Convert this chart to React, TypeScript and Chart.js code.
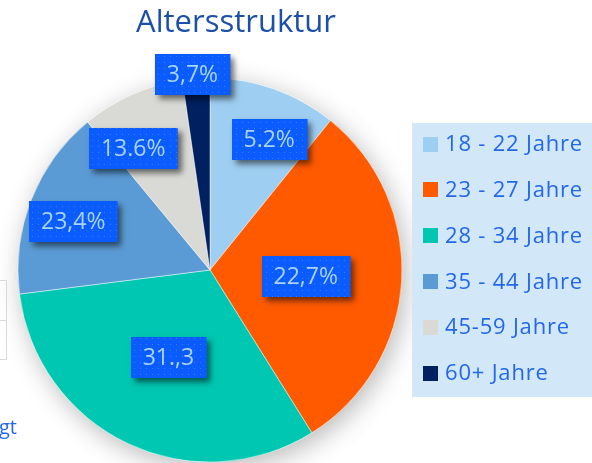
import React, { useEffect, useRef } from "react";
import { Chart, registerables } from "chart.js";

Chart.register(...registerables);

// ---- data ----
const chartTitle = "Altersstruktur";
const categories = ["18 - 22 Jahre", "23 - 27 Jahre", "28 - 34 Jahre", "35 - 44 Jahre", "45-59 Jahre", "60+ Jahre"];
const shares = [10.8, 30.3, 31.9, 16.0, 8.7, 2.3];
const labelTexts = ["5.2%", "22,7%", "31.,3", "23,4%", "13.6%", "3,7%"];
const sideText = "gt";

// ---- styles ----
const sliceColors = ["#9ecef1", "#ff5a00", "#00c7b1", "#5b9bd5", "#d9d9d6", "#002060"];
const labelRadiusFrac = [0.745, 0.5, 0.505, 0.755, 0.75, 1.02];
const labelAngleShiftDeg = [5, 0.5, 0, -2.2, -8.3, -1];
const FONT = "'Open Sans', 'Noto Sans', sans-serif";

function makePattern(ctx: CanvasRenderingContext2D) {
  const c = document.createElement("canvas");
  c.width = 6;
  c.height = 6;
  const g = c.getContext("2d")!;
  g.fillStyle = "#0a5cff";
  g.fillRect(0, 0, 6, 6);
  g.fillStyle = "#3a7cff";
  g.fillRect(2, 2, 1, 1);
  return ctx.createPattern(c, "repeat");
}

const decorPlugin = {
  id: "decor",
  beforeDatasetsDraw(chart: any) {
    const ctx: CanvasRenderingContext2D = chart.ctx;
    const meta = chart.getDatasetMeta(0);
    const arc = meta.data[0];
    if (!arc) return;
    const { x, y, outerRadius } = arc.getProps(["x", "y", "outerRadius"], true);
    ctx.save();
    ctx.shadowColor = "rgba(0,0,0,0.28)";
    ctx.shadowBlur = 26;
    ctx.shadowOffsetX = 4;
    ctx.shadowOffsetY = 6;
    ctx.beginPath();
    ctx.arc(x, y, outerRadius, 0, Math.PI * 2);
    ctx.fillStyle = "#ffffff";
    ctx.fill();
    ctx.restore();
  },
  afterDatasetsDraw(chart: any) {
    const ctx: CanvasRenderingContext2D = chart.ctx;
    const meta = chart.getDatasetMeta(0);
    const pattern = makePattern(ctx);
    ctx.save();
    ctx.font = `23px ${FONT}`;
    meta.data.forEach((el: any, i: number) => {
      const { x, y, startAngle, endAngle, outerRadius } = el.getProps(
        ["x", "y", "startAngle", "endAngle", "outerRadius"],
        true
      );
      const mid = (startAngle + endAngle) / 2 + (labelAngleShiftDeg[i] * Math.PI) / 180;
      const r = outerRadius * labelRadiusFrac[i];
      const px = x + Math.cos(mid) * r;
      const py = y + Math.sin(mid) * r;
      const text = labelTexts[i];
      const tw = ctx.measureText(text).width;
      const bw = tw + 24;
      const bh = 41;
      const bx = Math.round(px - bw / 2);
      const by = Math.round(py - bh / 2);
      ctx.save();
      ctx.shadowColor = "rgba(0,0,0,0.55)";
      ctx.shadowBlur = 6;
      ctx.shadowOffsetX = 4;
      ctx.shadowOffsetY = 4;
      ctx.fillStyle = "#0a5cff";
      ctx.fillRect(bx, by, bw, bh);
      ctx.restore();
      if (pattern) {
        ctx.fillStyle = pattern;
        ctx.fillRect(bx, by, bw, bh);
      }
      ctx.fillStyle = "#a9d3f7";
      ctx.textAlign = "center";
      ctx.textBaseline = "middle";
      ctx.fillText(text, px, by + bh / 2 + 1);
    });
    ctx.restore();
  },
  afterDraw(chart: any) {
    const ctx: any = chart.ctx;
    ctx.save();
    // title
    ctx.font = `31px ${FONT}`;
    ctx.fillStyle = "#1b4fac";
    ctx.textAlign = "center";
    ctx.textBaseline = "alphabetic";
    ctx.fillText(chartTitle, 236, 32);

    // legend
    ctx.fillStyle = "#d2e7f8";
    ctx.fillRect(412, 123, 180, 274);
    ctx.font = `22px ${FONT}`;
    ctx.letterSpacing = "0.8px";
    ctx.textAlign = "left";
    ctx.textBaseline = "middle";
    categories.forEach((c, i) => {
      const ry = 144 + i * 45.8;
      ctx.fillStyle = sliceColors[i];
      ctx.fillRect(423, Math.round(ry - 7.5), 15, 15);
      ctx.fillStyle = "#2368ec";
      ctx.fillText(c, 445, ry + 1);
    });
    ctx.letterSpacing = "0px";

    // clipped neighbours on the left
    ctx.strokeStyle = "#d9d9d9";
    ctx.lineWidth = 1;
    ctx.beginPath();
    ctx.moveTo(0, 280.5);
    ctx.lineTo(6.5, 280.5);
    ctx.lineTo(6.5, 359.5);
    ctx.lineTo(0, 359.5);
    ctx.moveTo(0, 320.5);
    ctx.lineTo(6.5, 320.5);
    ctx.stroke();
    ctx.font = `20px ${FONT}`;
    ctx.fillStyle = "#2368ec";
    ctx.textBaseline = "alphabetic";
    ctx.fillText(sideText, -1, 434);
    ctx.restore();
  },
};

export default function App() {
  const ref = useRef<HTMLCanvasElement | null>(null);
  useEffect(() => {
    if (!ref.current) return;
    const chart = new Chart(ref.current, {
      type: "pie",
      data: {
        labels: categories,
        datasets: [
          {
            data: shares,
            backgroundColor: sliceColors,
            borderColor: "rgba(255,255,255,0.45)",
            borderWidth: 1,
            radius: 192,
          } as any,
        ],
      },
      options: {
        responsive: false,
        animation: false,
        events: [],
        layout: { padding: { left: 18, right: 190, top: 78, bottom: 1 } },
        plugins: {
          legend: { display: false },
          title: { display: false },
          tooltip: { enabled: false },
        },
      },
      plugins: [decorPlugin],
    });
    return () => chart.destroy();
  }, []);
  return (
    <div style={{ position: "fixed", left: 0, top: 0, width: 592, height: 463, background: "#fff", overflow: "hidden" }}>
      <canvas ref={ref} width={592} height={463} style={{ display: "block" }} />
    </div>
  );
}
